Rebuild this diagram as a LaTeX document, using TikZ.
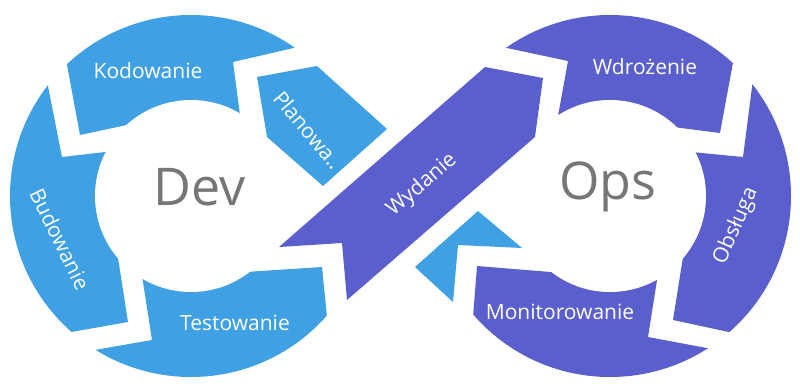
\documentclass[tikz,border=0pt]{standalone}
\usepackage{fontspec}
\setmainfont{Open Sans}
\usepackage{tikz}
\usetikzlibrary{positioning}
\definecolor{DevBlue}{HTML}{3FA0E4}
\definecolor{OpsPurple}{HTML}{5A5FCD}
\definecolor{HubGray}{HTML}{767676}

\begin{document}
\begin{tikzpicture}[x=1pt,y=-1pt,
        dev/.style={fill=DevBlue},
        ops/.style={fill=OpsPurple},
        hole/.style={fill=white},
        lab/.style={font=\fontsize{21}{24}\selectfont, text=white, inner sep=0pt},
        hub/.style={font=\fontsize{52}{60}\selectfont, text=HubGray, inner sep=0pt},
      ]
      \useasboundingbox (0,0) rectangle (800,386);
      % Dev ring
      \begin{scope}
        \clip (191,196) circle[radius=181];
        \fill[dev] (60,27) -- (80,135) -- (150,120) -- (191,196) -- (244,145) -- (233,62) -- (341,37) -- (200,-20) -- cycle;
        \fill[dev] (42,56) -- (62,157) -- (140,148) -- (191,196) -- (114,232) -- (128,322) -- (20,341) -- (-20,196) -- cycle;
        \fill[dev] (60,356) -- (152,340) -- (143,282) -- (139,256) -- (191,196) -- (215,274) -- (322,267) -- (331,357) -- (191,420) -- cycle;
      \end{scope}
      % Ops ring
      \begin{scope}
        \clip (610,196) circle[radius=181];
        \fill[ops] (460,38) -- (568,61) -- (554,138) -- (610,196) -- (650,124) -- (720,133) -- (739,30) -- (610,-30) -- cycle;
        \fill[ops] (756,56) -- (743,157) -- (671,150) -- (610,196) -- (687,232) -- (673,320) -- (780,343) -- (830,196) -- cycle;
        \fill[ops] (470,356) -- (477,266) -- (575,274) -- (610,196) -- (661,255) -- (648,337) -- (760,358) -- (610,420) -- cycle;
      \end{scope}
      \fill[hole] (191,196) circle[radius=96];
      \fill[hole] (610,196) circle[radius=96];
      % arrows across the middle
      \fill[dev] (257,77) -- (317,66) -- (387,129) -- (323,186) -- (267,137) -- cycle;
      \fill[ops] (279,247) -- (342,243) -- (347,300) -- (535,137) -- (543,78) -- (485,67) -- cycle;
      \fill[dev] (415,267) -- (478,211) -- (522,248) -- (458,245) -- (453,302) -- cycle;
      % labels
      \node[hub] (dev) at (200,187) {Dev};
      \node[hub] (ops) at (608,187) {Ops};
      \node[lab] (kod) at (148,71) {Kodowanie};
      \node[lab, rotate=-64] (bud) at (60,239) {Budowanie};
      \node[lab] (test) at (235,323) {Testowanie};
      \node[lab, rotate=-50] (plan) at (308,130) {Planowa..};
      \node[lab, rotate=41] (wyd) at (422,185) {Wydanie};
      \node[lab] (wdr) at (645,67) {Wdrożenie};
      \node[lab, rotate=66] (obs) at (736,226) {Obsługa};
      \node[lab] (mon) at (560,312) {Monitorowanie};
    \end{tikzpicture}
\end{document}
